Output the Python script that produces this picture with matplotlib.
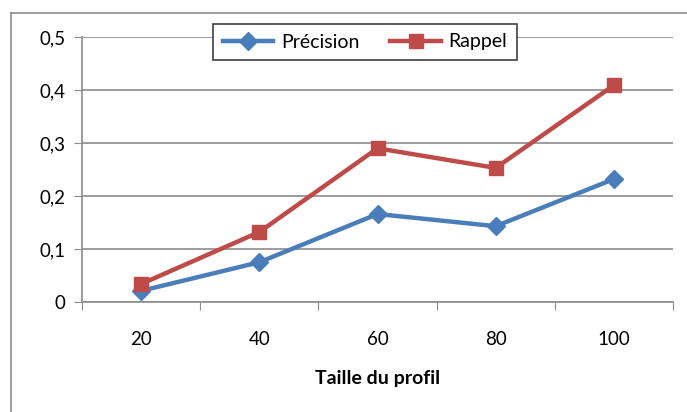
import matplotlib.pyplot as plt
from matplotlib.lines import Line2D

tailles = ["20", "40", "60", "80", "100"]
precision = [0.021, 0.075, 0.166, 0.143, 0.232]
rappel = [0.034, 0.132, 0.290, 0.253, 0.409]

plt.rcParams['font.family'] = ['Lato', 'DejaVu Sans']

fig = plt.figure(figsize=(6.87, 4.12), dpi=100)
ax = fig.add_axes([82/687, 1-302/412, 591/687, 265/412])

# cadre du graphique
fig.add_artist(Line2D([11/687, 11/687], [0, 1-13/412], color="#8c8c8c", lw=1.2))
fig.add_artist(Line2D([11/687, 1], [1-13/412, 1-13/412], color="#8c8c8c", lw=1.2))

x = range(len(tailles))
ax.plot(x, precision, color="#4A7EBB", lw=3.2, marker="D", ms=9, label="Précision", zorder=3)
ax.plot(x, rappel, color="#BE4B48", lw=3.2, marker="s", ms=10, label="Rappel", zorder=3)

ax.set_xlim(-0.5, len(tailles) - 0.5)
ax.set_ylim(0, 0.5)
ax.set_yticks([0, 0.1, 0.2, 0.3, 0.4, 0.5])
ax.set_yticklabels(["0", "0,1", "0,2", "0,3", "0,4", "0,5"])
ax.set_xticks([i - 0.5 for i in range(len(tailles) + 1)])
ax.set_xticklabels([])
ax.set_xticks(list(x), minor=True)
ax.set_xticklabels(tailles, minor=True)
ax.tick_params(axis="x", which="major", length=6, color="#8c8c8c", direction="out")
ax.tick_params(axis="x", which="minor", length=0, pad=21, labelsize=13.5)
ax.tick_params(axis="y", length=6, color="#8c8c8c", labelsize=13.5, pad=6)

ax.grid(axis="y", color="#8c8c8c", lw=1.2)
ax.set_axisbelow(True)
for s in ["top", "right"]:
    ax.spines[s].set_visible(False)
for s in ["left", "bottom"]:
    ax.spines[s].set_color("#8c8c8c")
    ax.spines[s].set_linewidth(1.2)

ax.set_xlabel("Taille du profil", fontweight="bold", fontsize=14, labelpad=16)

leg = ax.legend(loc="center", bbox_to_anchor=(365/687, 1-42/412), bbox_transform=fig.transFigure,
                ncol=2, fancybox=False, framealpha=1, edgecolor="#404040", fontsize=14,
                handlelength=2.6, handletextpad=0.4, columnspacing=1.6, borderpad=0.5,
                borderaxespad=0)
leg.get_frame().set_linewidth(1.2)

fig.savefig("out.png", dpi=100)
